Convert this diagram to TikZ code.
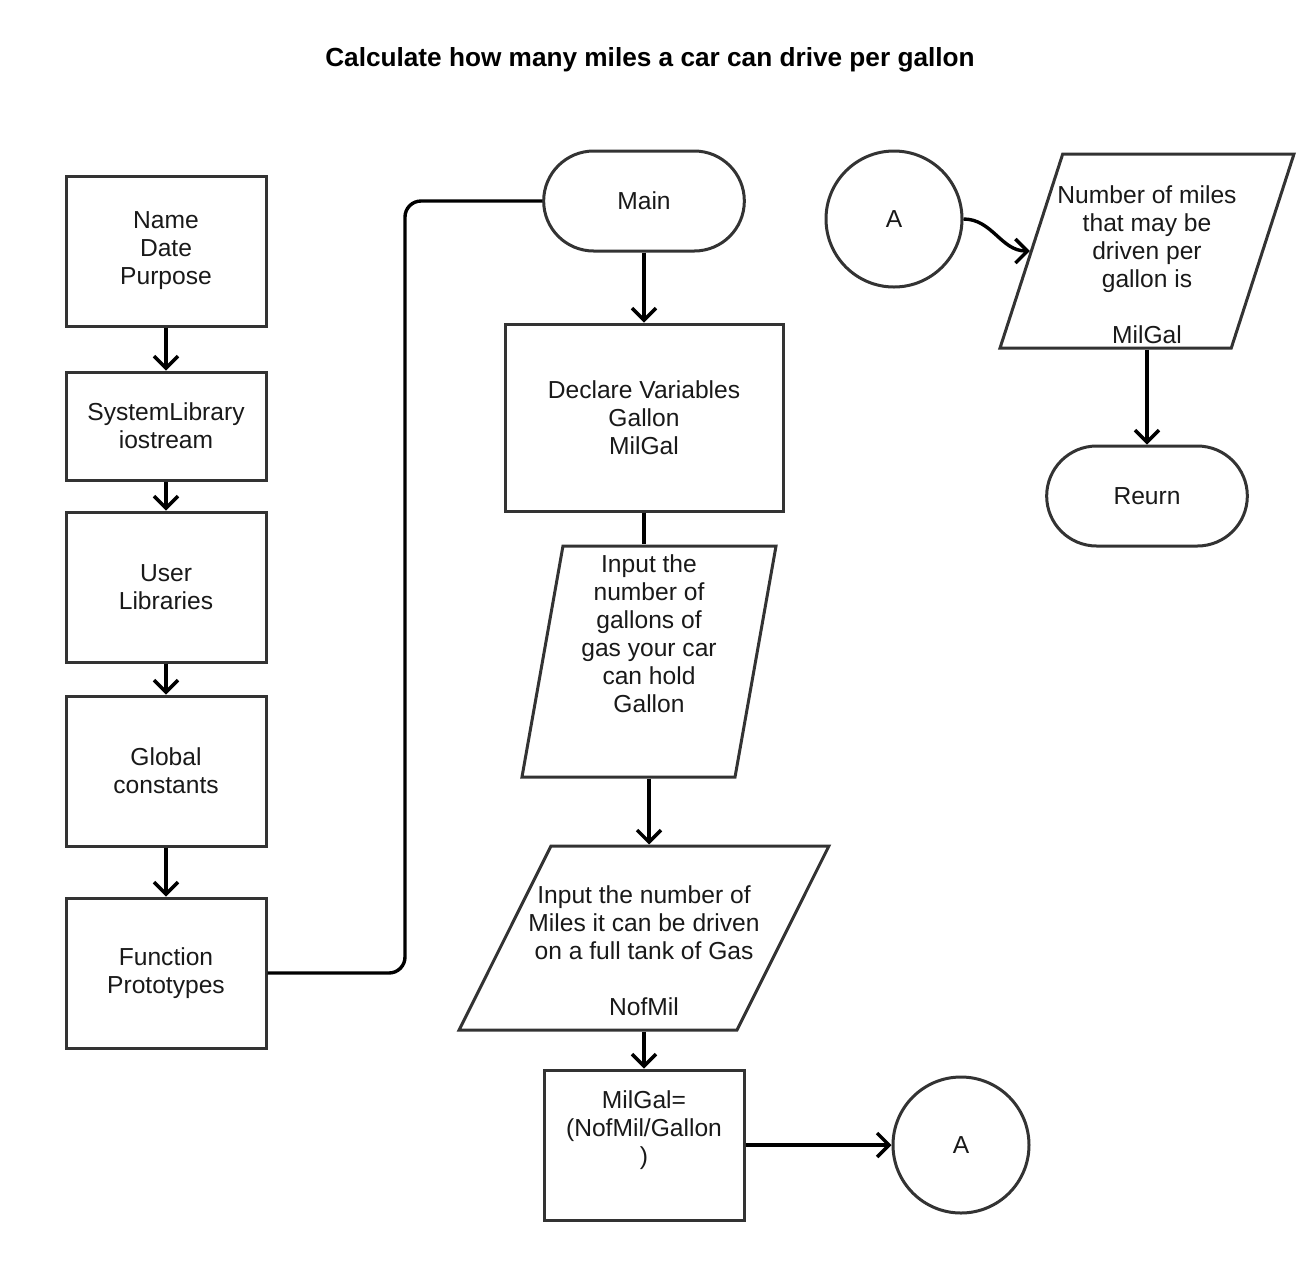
\documentclass[tikz,border=0pt]{standalone}
\usepackage{fontspec}
\setmainfont{Liberation Sans}
\usetikzlibrary{arrows.meta,shapes.geometric,shapes.misc}
\begin{document}
\begin{tikzpicture}[x=0.5pt, y=-0.5pt,
    txt/.style={align=center, font=\fontsize{12.3}{14}\selectfont, text=black!90},
    box/.style={txt, draw=black!80, line width=1.5pt, minimum width=100pt, minimum height=75pt},
    term/.style={txt, draw=black!80, line width=1.5pt, rounded rectangle, minimum width=107pt, minimum height=50pt},
    conn/.style={txt, draw=black!80, line width=1.5pt, circle, minimum size=68pt},
    io/.style={draw=black!80, line width=1.5pt, trapezium, trapezium stretches=true},
    link/.style={line width=1.7pt, -{Straight Barb[length=6pt,width=12pt]}},
    line/.style={line width=1.7pt}]
  \useasboundingbox (0,0) rectangle (1308,1260);
  \node[font=\bfseries\fontsize{13.1}{15}\selectfont] (title) at (650,60) {Calculate how many miles a car can drive per gallon};
  % left column
  \node[box] (name) at (166,251) {Name\\Date\\Purpose};
  \node[box, minimum height=54pt] (syslib) at (166,426) {SystemLibrary\\iostream};
  \node[box] (userlib) at (166,587) {User\\Libraries};
  \node[box] (global) at (166,771) {Global\\constants};
  \node[box] (proto) at (166,973) {Function\\Prototypes};
  % main column
  \node[term] (main) at (644,201) {Main};
  \node[box, minimum width=139pt, minimum height=93.5pt] (decl) at (644,417.5) {Declare Variables\\Gallon\\MilGal};
  \node[io, trapezium left angle=76.6, trapezium right angle=103.4, minimum width=127pt, minimum height=115.5pt] (inGal) at (649,661.5) {};
  \node[txt] (inGalTxt) at (649,634) {Input the\\number of\\gallons of\\gas your car\\can hold\\Gallon};
  \node[io, trapezium left angle=63.7, trapezium right angle=116.3, minimum width=185pt, minimum height=92pt] (inMil) at (644,938) {};
  \node[txt] (inMilTxt) at (644,951) {Input the number of\\Miles it can be driven\\on a full tank of Gas\\[14pt]NofMil};
  \node[box] (calc) at (644,1145) {};
  \node[txt] (calcTxt) at (644,1130) {MilGal=\\(NofMil/Gallon\\)};
  \node[conn] (aBot) at (961,1145) {A};
  % right column
  \node[conn] (aTop) at (894,219) {A};
  \node[io, trapezium left angle=69.6, trapezium right angle=110.4, minimum width=147pt, minimum height=97pt] (outMil) at (1147,251) {};
  \node[txt] (outMilTxt) at (1147,265) {Number of miles\\that may be\\driven per\\gallon is\\[14pt]MilGal};
  \node[term] (reurn) at (1147,496) {Reurn};
  % connectors
  \draw[link] (name.south) -- (syslib.north);
  \draw[link] (syslib.south) -- (userlib.north);
  \draw[link] (userlib.south) -- (global.north);
  \draw[link] (global.south) -- (proto.north);
  \coordinate (bend) at (405,0);
  \draw[line, rounded corners=8pt] (proto.east) -| (bend |- main.west) -- (main.west);
  \draw[link] (main.south) -- (decl.north);
  \draw[line] (decl.south) -- (decl.south |- inGal.north);
  \draw[link] (inGal.south) -- (inGal.south |- inMil.north);
  \draw[link] (inMil.south) -- (calc.north);
  \draw[link] (calc.east) -- (aBot.west);
  \draw[link] (aTop.east) to[out=0, in=180] (outMil.west);
  \draw[link] (outMil.south) -- (reurn.north);
\end{tikzpicture}
\end{document}
